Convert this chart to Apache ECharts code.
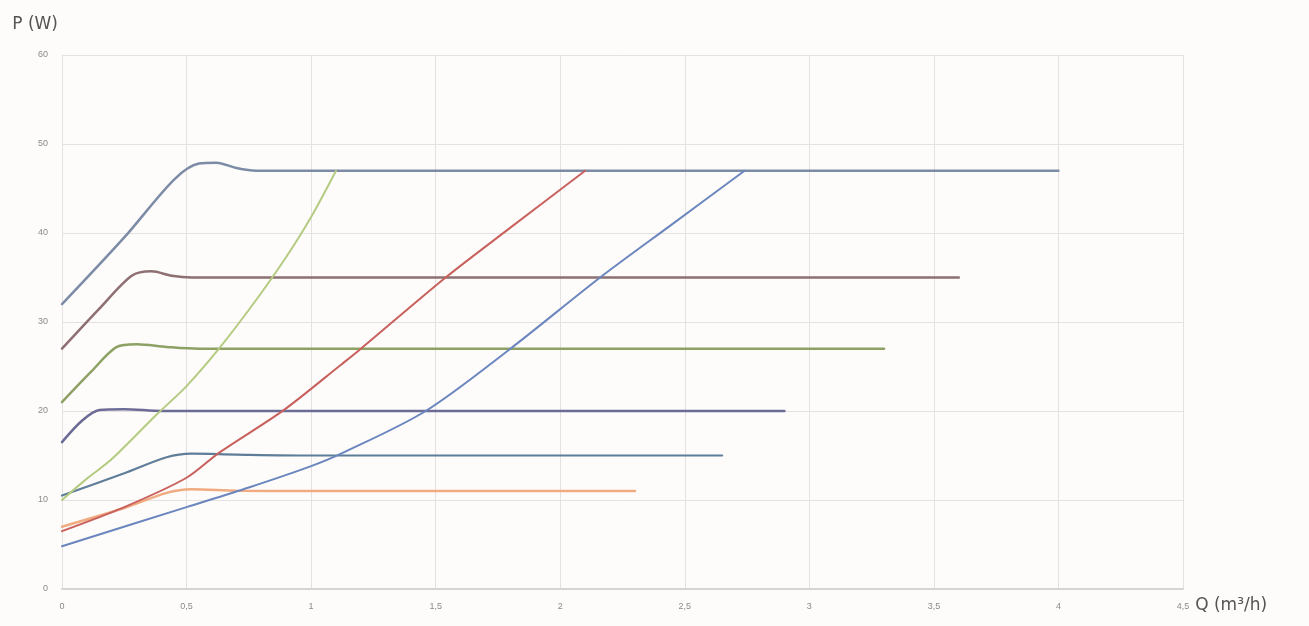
<!DOCTYPE html>
<html><head><meta charset="utf-8">
<script src="https://cdn.jsdelivr.net/npm/echarts@6/dist/echarts.min.js"></script>
<style>html,body{margin:0;padding:0;background:#fdfcfa}#c{width:1309px;height:626px}</style>
</head><body><div id="c"></div>
<script>
const xTicks = [0, 0.5, 1, 1.5, 2, 2.5, 3, 3.5, 4, 4.5];
const yTicks = [0, 10, 20, 30, 40, 50, 60];
const p47 = [[0,32],[0.25,39.5],[0.45,46],[0.55,47.8],[0.62,47.9],[0.7,47.3],[0.78,47],[1.2,47],[4,47]];
const p35 = [[0,27],[0.15,31.5],[0.28,35.2],[0.36,35.7],[0.44,35.2],[0.52,35],[1,35],[3.6,35]];
const p27 = [[0,21],[0.12,24.5],[0.22,27.2],[0.3,27.5],[0.42,27.2],[0.55,27],[1,27],[3.3,27]];
const p20 = [[0,16.5],[0.08,18.9],[0.15,20.1],[0.25,20.2],[0.4,20],[1,20],[2.9,20]];
const p15 = [[0,10.5],[0.25,13],[0.42,14.8],[0.52,15.2],[0.7,15.1],[1,15],[2.65,15]];
const p11 = [[0,7],[0.25,9.1],[0.42,10.8],[0.52,11.2],[0.7,11.05],[1,11],[2.3,11]];
const riseGreen = [[0,10],[0.1,12.4],[0.2,14.6],[0.38,19.6],[0.5,22.8],[0.63,27],[0.78,32.5],[0.9,37.3],[1,41.8],[1.1,47]];
const riseRed = [[0,6.5],[0.25,9.2],[0.5,12.5],[0.63,15.3],[0.89,20.1],[1.12,25.2],[1.2,27],[1.54,35],[1.8,40.6],[2.1,47]];
const riseBlue = [[0,4.8],[0.5,9.2],[0.75,11.4],[1,13.8],[1.12,15.2],[1.46,20],[1.8,27],[2.16,35],[2.45,41],[2.74,47]];

const seriesDefs = [
  {name:'47 W', data:p47, color:'#7d8ca6', w:2.5},
  {name:'35 W', data:p35, color:'#8e6f72', w:2.5},
  {name:'27 W', data:p27, color:'#8ea164', w:2.5},
  {name:'20 W', data:p20, color:'#6c6b96', w:2.5},
  {name:'15 W', data:p15, color:'#5f7d98', w:2.2},
  {name:'11 W', data:p11, color:'#f0ab80', w:2.5},
  {name:'rise green', data:riseGreen, color:'#b5cb82', w:2},
  {name:'rise red', data:riseRed, color:'#c8615d', w:2},
  {name:'rise blue', data:riseBlue, color:'#6b86be', w:2}
];

const chart = echarts.init(document.getElementById('c'));
chart.setOption({
  backgroundColor:'#fdfcfa',
  animation:false,
  grid:{left:62, right:126, top:55, bottom:37, containLabel:false},
  xAxis:{type:'value', min:0, max:4.5, interval:0.5,
    axisLine:{show:true, lineStyle:{color:'#d6d4d2', width:2}},
    axisTick:{show:false},
    splitLine:{show:true, lineStyle:{color:'#e4e2e0'}},
    axisLabel:{color:'#8a8a8a', fontSize:9, margin:13, formatter:v=>String(v).replace('.',',')},
    name:'Q (m³/h)', nameLocation:'end', nameGap:12,
    nameTextStyle:{color:'#555', fontSize:17, fontFamily:'DejaVu Sans', verticalAlign:'top', padding:[8,0,0,0]}
  },
  yAxis:{type:'value', min:0, max:60, interval:10,
    axisLine:{show:true, lineStyle:{color:'#e4e2e0'}},
    axisTick:{show:false},
    splitLine:{show:true, lineStyle:{color:'#e4e2e0'}},
    axisLabel:{color:'#8a8a8a', fontSize:9, margin:14},
    name:'P (W)', nameLocation:'end', nameGap:22,
    nameTextStyle:{color:'#555', fontSize:17, fontFamily:'DejaVu Sans', align:'right', padding:[0,4,0,0]}
  },
  series: seriesDefs.map(s=>({
    type:'line', name:s.name, data:s.data, smooth:0.3, showSymbol:false,
    lineStyle:{color:s.color, width:s.w, cap:'round'}, itemStyle:{color:s.color}
  }))
});
</script></body></html>
